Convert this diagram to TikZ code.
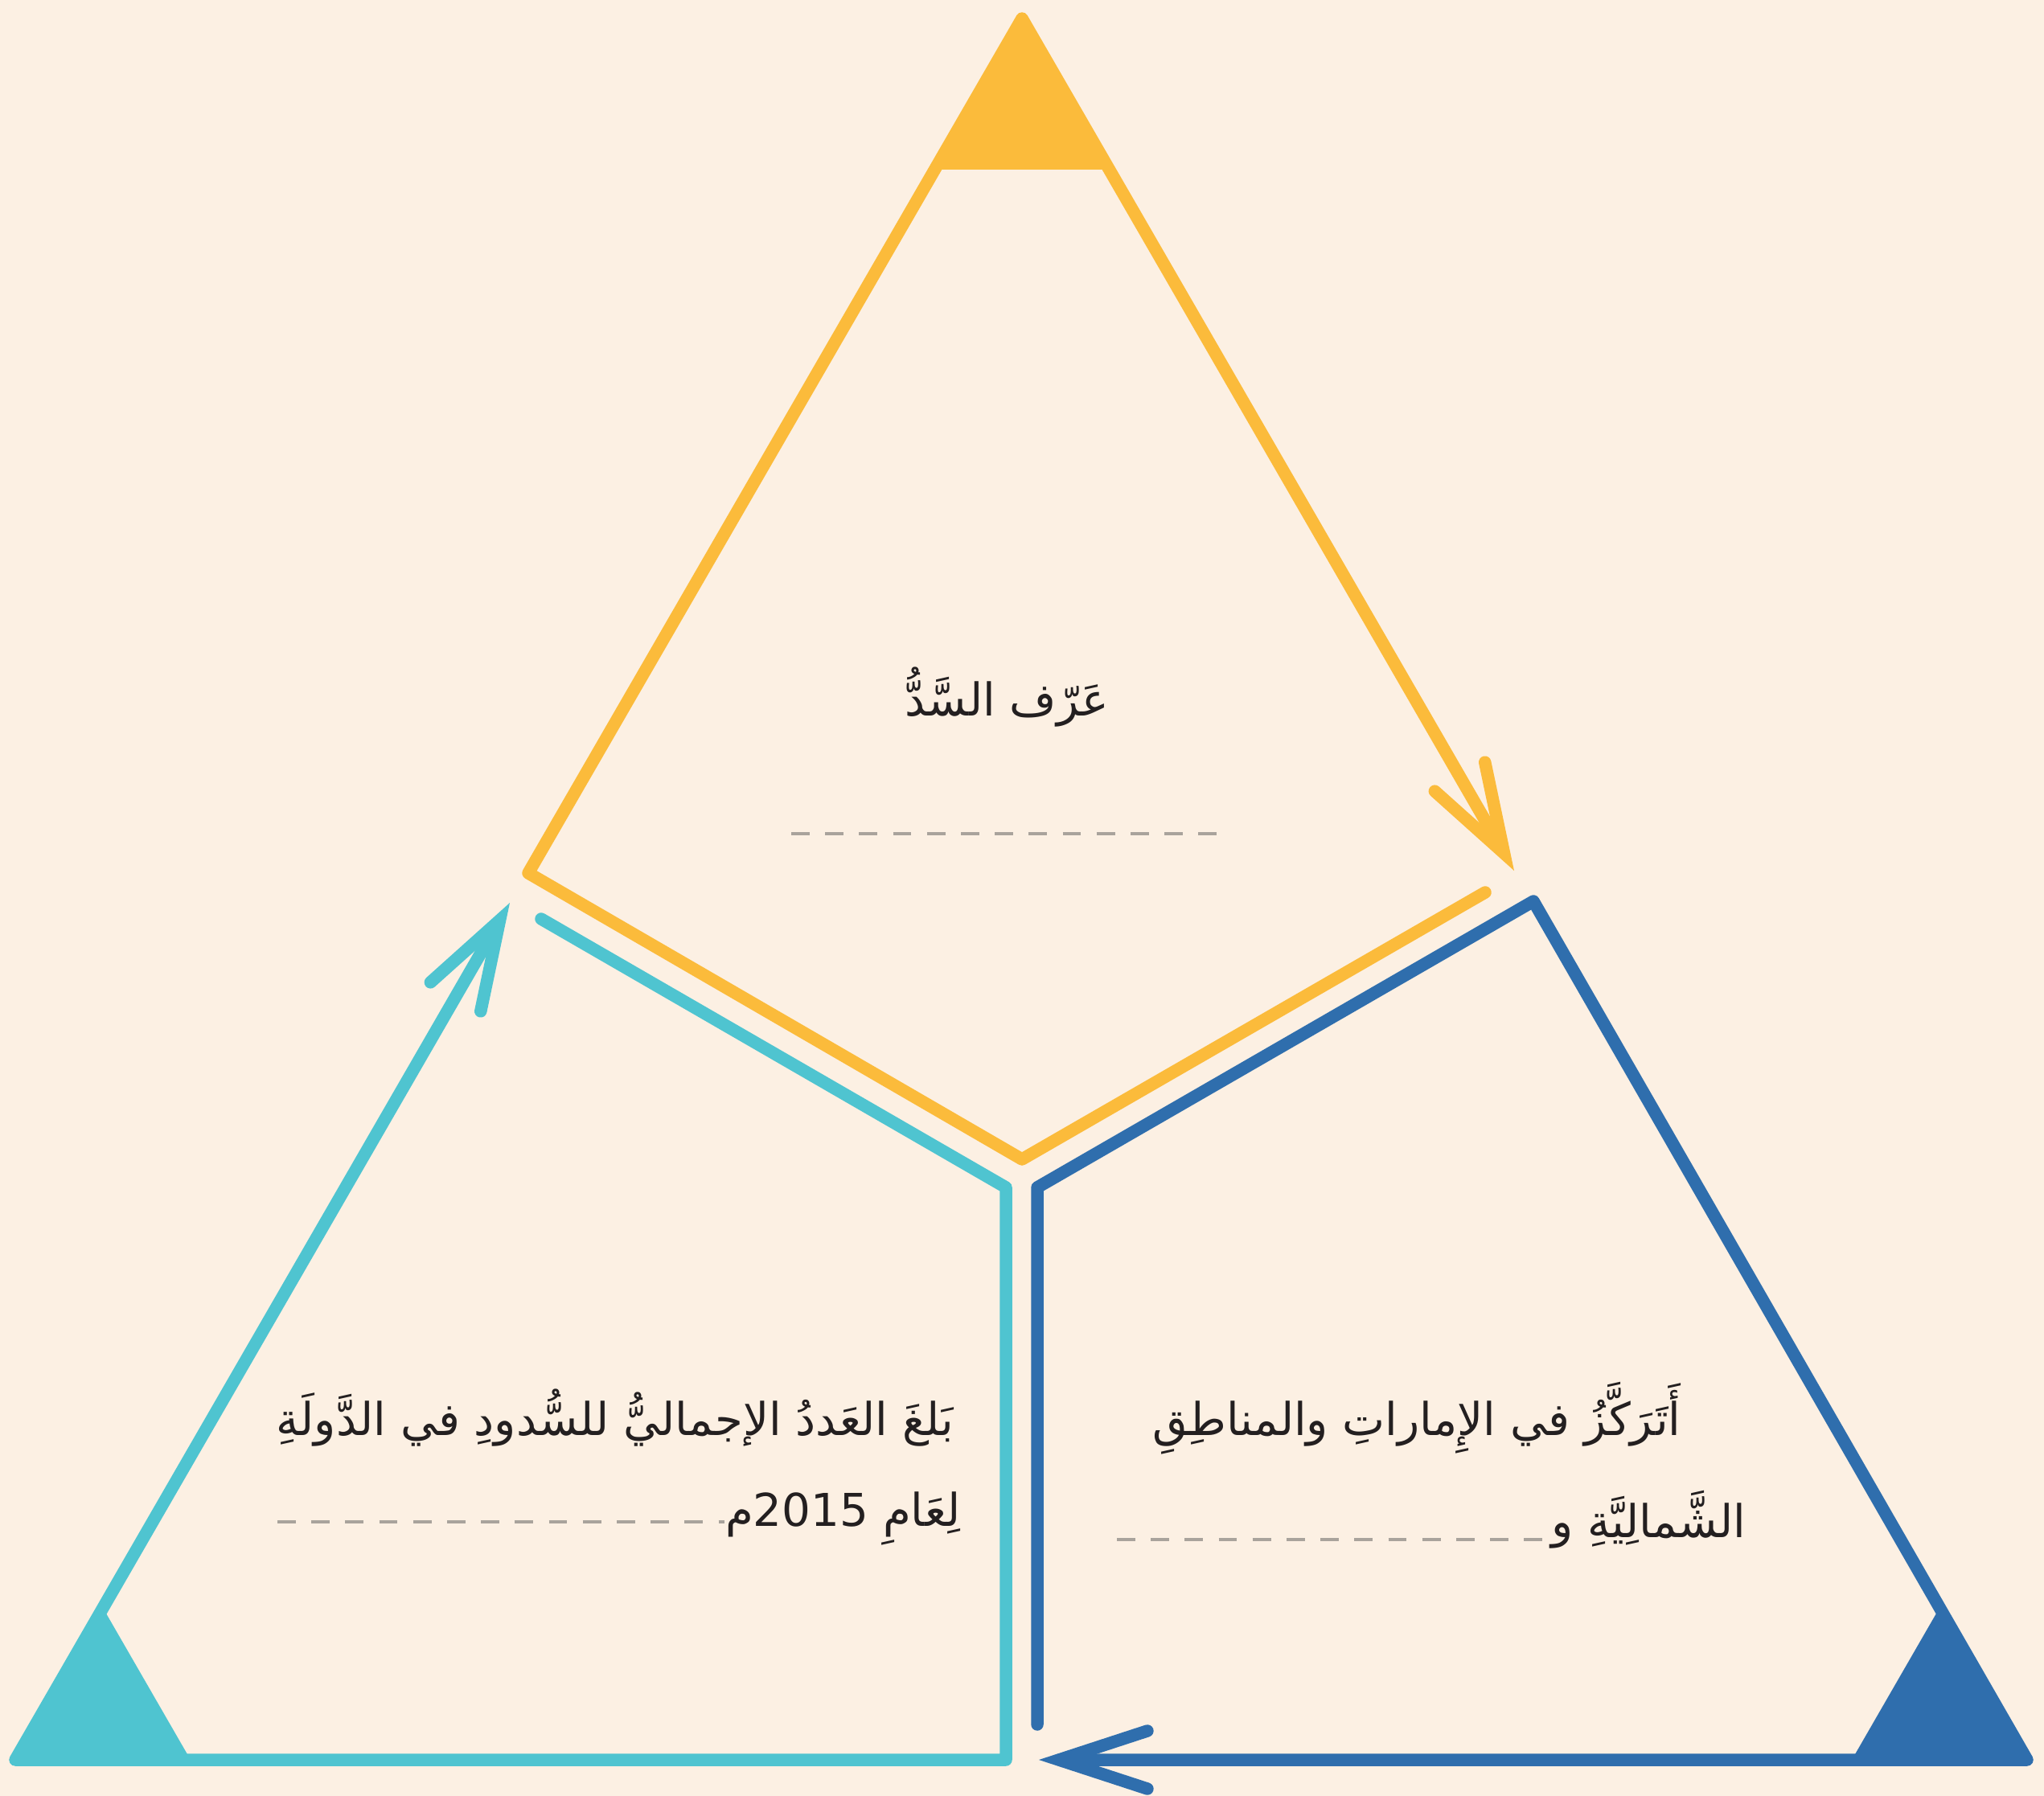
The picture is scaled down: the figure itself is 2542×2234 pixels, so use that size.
\documentclass[tikz,border=0pt]{standalone}
\usepackage{fontspec}
\newfontfamily\arabicfont[Script=Arabic]{DejaVu Sans}
\TeXXeTstate=1
\usetikzlibrary{arrows.meta}
\definecolor{cream}{HTML}{FCF0E3}
\definecolor{damyellow}{HTML}{FBBB3B}
\definecolor{damcyan}{HTML}{4FC4D0}
\definecolor{damblue}{HTML}{2F6EAD}
\definecolor{blankgray}{HTML}{A9A39C}
\definecolor{ink}{HTML}{231F20}

\begin{document}
\begin{tikzpicture}[x=0.01cm, y=-0.01cm,
  side/.style={line width=4.4pt, line cap=round, line join=round},
  tip/.style={-{Straight Barb[length=1.1cm, width=0.72cm, line cap=round]}},
  blank/.style={draw=blankgray, line width=1.2pt, dash pattern=on 6.5pt off 5.5pt},
  label/.style={font=\arabicfont\fontsize{16}{21}\selectfont, inner sep=0pt, text=ink}]

  \fill[cream] (0,0) rectangle (2542,2234);
  \useasboundingbox (0,0) rectangle (2542,2234);

  % corners of the big triangle
  \coordinate (T) at (1271,23);
  \coordinate (L) at (19,2189);
  \coordinate (R) at (2521,2189);

  % yellow part
  \coordinate (yend) at (1847,1110);
  \coordinate (ybot) at (1271,1442);
  \coordinate (yleft) at (657,1086);
  \coordinate (ytip) at (1883,1083);
  \fill[damyellow] (T) -- (1162,211) -- (1380,211) -- cycle;
  \draw[side, damyellow, tip] (yend) -- (ybot) -- (yleft) -- (T) -- (ytip);

  % cyan part
  \coordinate (cstart) at (673,1143);
  \coordinate (ccorner) at (1251,1477);
  \coordinate (cbot) at (1251,2189);
  \coordinate (ctip) at (634,1123);
  \fill[damcyan] (128,2000) -- (L) -- (237,2189) -- cycle;
  \draw[side, damcyan, tip] (cstart) -- (ccorner) -- (cbot) -- (L) -- (ctip);

  % blue part
  \coordinate (bstart) at (1290,2145);
  \coordinate (bcorner) at (1290,1477);
  \coordinate (bright) at (1907,1121);
  \coordinate (btip) at (1292,2189);
  \fill[damblue] (2412,2000) -- (2303,2189) -- (R) -- cycle;
  \draw[side, damblue, tip] (bstart) -- (bcorner) -- (bright) -- (R) -- (btip);

  % texts
  \node[label, anchor=base] (define) at (1252,890) {\beginR عَرّف السَّدُّ\endR};
  \coordinate (defl) at (984,1037);
  \coordinate (defr) at (1524,1037);
  \draw[blank] (defl) -- (defr);

  \node[label, anchor=base east] (count1) at (1187,1785)
    {\beginR بَلغَ العَددُ الإجماليُّ للسُّدودِ في الدَّولَةِ\endR};
  \node[label, anchor=base east] (count2) at (1195,1898)
    {\beginR لِعَامِ \beginL2015\endL{}م\endR};
  \coordinate (countgap) at (345,1893);
  \draw[blank] (countgap) -- (countgap -| count2.west);

  \node[label, anchor=base east] (place1) at (2091,1785)
    {\beginR أَتَرَكَّزُ في الإِماراتِ والمناطِقِ\endR};
  \node[label, anchor=base east] (place2) at (2172,1912)
    {\beginR الشَّمالِيَّةِ و\endR};
  \coordinate (placegap) at (1389,1915);
  \draw[blank] (placegap) -- (placegap -| place2.west);
\end{tikzpicture}
\end{document}
